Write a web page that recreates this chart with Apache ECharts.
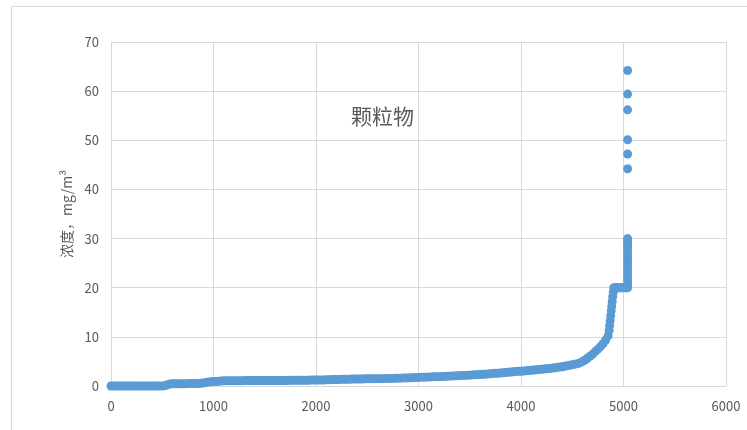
<!DOCTYPE html>
<html>
<head>
<meta charset="utf-8">
<script src="https://cdn.jsdelivr.net/npm/echarts@6/dist/echarts.min.js"></script>
<style>
  html, body { margin: 0; padding: 0; background: #fff; }
  #main { width: 747px; height: 430px; }
</style>
</head>
<body>
<div id="main"></div>
<script>
// 排序后的颗粒物浓度，主曲线每 25 个样本取一点
var curveStep = 25;
var curveConc = [
  0, 0, 0, 0, 0, 0, 0, 0, 0, 0, 0, 0, 0, 0, 0, 0, 0, 0, 0, 0, 0,
  0.05, 0.25, 0.4,
  0.45, 0.45, 0.45, 0.45, 0.45, 0.45, 0.5, 0.5, 0.5, 0.5, 0.5, 0.55,
  0.6, 0.7, 0.8, 0.85, 0.9, 0.9, 0.95, 1.0,
  1.05, 1.05, 1.05, 1.05, 1.05, 1.05, 1.05, 1.05, 1.1, 1.1, 1.1, 1.1, 1.1, 1.1, 1.1, 1.1, 1.1, 1.1, 1.1, 1.1,
  1.1, 1.1, 1.1, 1.1, 1.1, 1.1, 1.15, 1.15, 1.15, 1.15, 1.15, 1.15, 1.15, 1.15, 1.2, 1.2, 1.2, 1.2, 1.2, 1.2,
  1.25, 1.25, 1.3, 1.3, 1.3, 1.3, 1.35, 1.35, 1.35, 1.35, 1.4, 1.4, 1.4, 1.4, 1.4, 1.45, 1.45, 1.45, 1.45, 1.5,
  1.5, 1.5, 1.5, 1.55, 1.55, 1.55, 1.55, 1.6, 1.6, 1.6, 1.65, 1.65, 1.65, 1.7, 1.7, 1.75, 1.75, 1.8, 1.8, 1.8,
  1.85, 1.85, 1.9, 1.9, 1.9, 1.95, 1.95, 2.0, 2.0, 2.05, 2.05, 2.1, 2.1, 2.15, 2.15, 2.2, 2.2, 2.25, 2.3, 2.3,
  2.35, 2.4, 2.4, 2.45, 2.5, 2.55, 2.6, 2.6, 2.65, 2.7, 2.75, 2.8, 2.85, 2.9, 2.95, 3.0, 3.0, 3.05, 3.1, 3.15,
  3.2, 3.25, 3.3, 3.35, 3.4, 3.45, 3.5, 3.55, 3.6, 3.7, 3.75, 3.85, 3.9, 4.0, 4.1, 4.2, 4.3, 4.45, 4.55, 4.7,
  5.0, 5.3, 5.7, 6.1, 6.5, 7.0, 7.5, 8.0, 8.6, 9.3, 10.2
];
// 陡升段与 20 平台
var steepRank = [4860, 4865, 4870, 4875, 4880, 4885, 4890, 4895, 4900, 4905, 4915, 4930, 4945, 4960, 4975, 4990, 5005, 5020, 5035];
var steepConc = [11.3, 12.3, 13.3, 14.3, 15.3, 16.2, 17.2, 18.2, 19.1, 20, 20, 20, 20, 20, 20, 20, 20, 20, 20];
// 最后一列（约第 5040 个样本处）
var tailRank = 5040;
var tailConc = [20, 20.7, 21.4, 22.1, 22.8, 23.5, 24.2, 24.9, 25.6, 26.3, 27, 27.7, 28.4, 29.1, 29.6, 30,
  44.2, 47.2, 50.1, 56.2, 59.4, 64.2];

var data = [];
for (var i = 0; i < curveConc.length; i++) {
  data.push([i * curveStep, curveConc[i]]);
}
for (var k = 0; k < steepRank.length; k++) {
  data.push([steepRank[k], steepConc[k]]);
}
for (var j = 0; j < tailConc.length; j++) {
  data.push([tailRank, tailConc[j]]);
}

var chart = echarts.init(document.getElementById('main'));
var gray = '#595959';
var lineGray = '#d9d9d9';
var font = '"Noto Sans CJK SC", "Liberation Sans", sans-serif';

var option = {
  animation: false,
  backgroundColor: '#fff',
  textStyle: { fontFamily: font },
  graphic: [{
    type: 'rect',
    left: 9,
    top: 4,
    shape: { width: 800, height: 500 },
    style: { fill: 'none', stroke: lineGray, lineWidth: 1 },
    silent: true
  }, {
    type: 'text',
    left: 351,
    top: 106,
    style: { text: '颗粒物', fill: gray, font: '21px ' + font }
  }],
  grid: { left: 111, right: 21, top: 42, bottom: 44 },
  xAxis: {
    type: 'value',
    min: 0,
    max: 6000,
    interval: 1000,
    axisLine: { show: true, lineStyle: { color: lineGray } },
    axisTick: { show: false },
    axisLabel: {
      color: gray, fontSize: 13, margin: 14,
      formatter: function (v) { return String(v); }
    },
    splitLine: { show: true, lineStyle: { color: lineGray } }
  },
  yAxis: {
    type: 'value',
    min: 0,
    max: 70,
    interval: 10,
    name: '浓度，mg/m³',
    nameLocation: 'middle',
    nameGap: 37,
    nameTextStyle: { color: gray, fontSize: 14 },
    axisLine: { show: true, lineStyle: { color: lineGray } },
    axisTick: { show: false },
    axisLabel: { color: gray, fontSize: 13, margin: 12 },
    splitLine: { show: true, lineStyle: { color: lineGray } }
  },
  series: [{
    type: 'scatter',
    symbol: 'circle',
    symbolSize: 9,
    itemStyle: { color: '#5b9bd5', opacity: 1 },
    data: data
  }]
};
chart.setOption(option);
</script>
</body>
</html>
